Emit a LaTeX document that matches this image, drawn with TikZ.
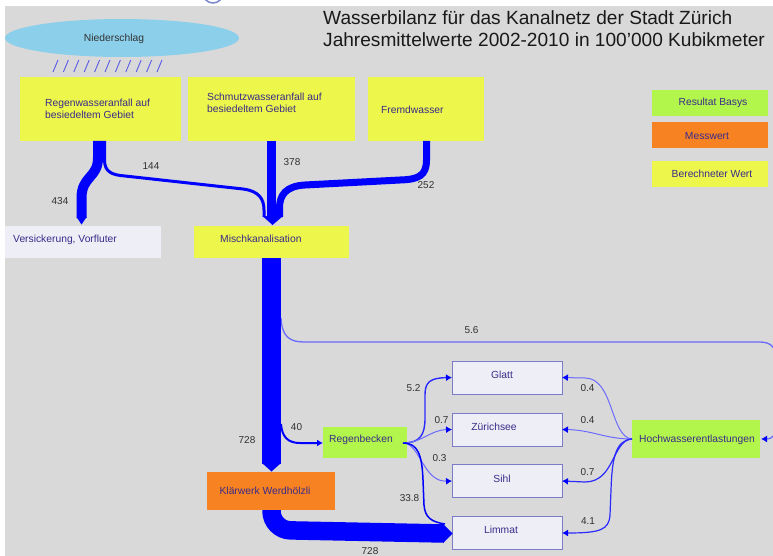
\documentclass[tikz,border=0pt]{standalone}
\usepackage{fontspec}
\setmainfont{Liberation Sans}
\usetikzlibrary{arrows.meta,shapes.geometric}
\definecolor{bg}{HTML}{D9D9D9}
\definecolor{yel}{HTML}{ECF64B}
\definecolor{grn}{HTML}{B3F64B}
\definecolor{org}{HTML}{F78222}
\definecolor{lav}{HTML}{EEEEF7}
\definecolor{sky}{HTML}{8BCFEA}
\definecolor{txt}{HTML}{3A2A88}
\definecolor{flow}{HTML}{0000FF}
\definecolor{thinb}{HTML}{2A2AFF}
\definecolor{lightb}{HTML}{6A6AFF}
\definecolor{rbord}{HTML}{7B7BC8}
\definecolor{lab}{HTML}{303030}
\definecolor{rain}{HTML}{5A5AE6}
\definecolor{logo}{HTML}{7D88CC}
\begin{document}
\begin{tikzpicture}[x=1pt,y=-1pt,
  box/.style={rectangle, inner sep=0pt, outer sep=0pt},
  txtstyle/.style={font=\fontsize{10.3}{12}\selectfont, text=txt, inner sep=0pt},
  num/.style={font=\fontsize{10}{12}\selectfont, text=lab, inner sep=0pt},
  river/.style={box, fill=lav, draw=rbord, line width=0.9pt, minimum width=110pt, minimum height=33pt},
  arr/.style={-{Latex[length=6pt,width=7pt,color=flow]}},
  thinflow/.style={draw=thinb, line width=1.4pt},
  lightflow/.style={draw=lightb, line width=1pt},
]
\useasboundingbox (0,0) rectangle (773,556);
\begin{scope}
\clip (0,0) rectangle (773,556);
\fill[white] (0,0) rectangle (773,556);
\draw[logo, line width=1.5pt] (213,-7) circle (10);
\fill[bg] (5,6) rectangle (773,556);

% titles
\node[anchor=west, inner sep=0pt, font=\fontsize{19.1}{21}\selectfont, text=black!90] (title1) at (323,18) {Wasserbilanz für das Kanalnetz der Stadt Zürich};
\node[anchor=west, inner sep=0pt, font=\fontsize{19.1}{21}\selectfont, text=black!90] (title2) at (323,40) {Jahresmittelwerte 2002-2010 in 100'000 Kubikmeter};

% Niederschlag
\node[ellipse, fill=sky, inner sep=0pt, minimum width=234pt, minimum height=38pt] (nied) at (122,38) {};
\node[txtstyle, text=black!80] (niedt) at (114,39) {Niederschlag};
\foreach \i in {0,...,10} {
  \draw[rain, line width=0.9pt] (53+\i*10.4,72) -- (58+\i*10.4,60);
}

% top boxes
\node[box, fill=yel, minimum width=161pt, minimum height=64pt] (regen) at (100.5,109) {};
\node[txtstyle, anchor=west, align=left] (regent) at (45,109) {Regenwasseranfall auf\\besiedeltem Gebiet};
\node[box, fill=yel, minimum width=167pt, minimum height=64pt] (schmutz) at (271.5,109) {};
\node[txtstyle, anchor=west, align=left] (schmutzt) at (207,103) {Schmutzwasseranfall auf\\besiedeltem Gebiet};
\node[box, fill=yel, minimum width=116pt, minimum height=64pt] (fremd) at (426,109) {};
\node[txtstyle, anchor=west] (fremdt) at (381,110) {Fremdwasser};

% legend
\node[box, fill=grn, minimum width=116pt, minimum height=26pt] (leg1) at (710,103) {};
\node[txtstyle] at (713,103) {Resultat Basys};
\node[box, fill=org, minimum width=116pt, minimum height=26pt] (leg2) at (710,135) {};
\node[txtstyle] at (707,136) {Messwert};
\node[box, fill=yel, minimum width=116pt, minimum height=26pt] (leg3) at (710,174) {};
\node[txtstyle] at (712,174) {Berechneter Wert};

% middle boxes
\node[box, fill=lav, minimum width=156pt, minimum height=32pt] (vers) at (83,242) {};
\node[txtstyle, anchor=west] at (13,240) {Versickerung, Vorfluter};
\node[box, fill=yel, minimum width=155pt, minimum height=32pt] (misch) at (271.5,242) {};
\node[txtstyle, anchor=west] at (220,239) {Mischkanalisation};

% flows into Mischkanalisation
\draw[flow, line width=10pt] (98,141) -- (98,158) .. controls (98,178) and (81.5,176) .. (81.5,198) -- (81.5,218);
\fill[flow] (76.5,217) -- (86.5,217) -- (81.5,224.5) -- cycle;
\draw[flow, line width=3pt] (104.5,141) -- (104.5,160) .. controls (104.5,172) and (112,175) .. (125,176) -- (243,189) .. controls (258,191) and (264,198) .. (264,210) -- (264,217);
\draw[flow, line width=9pt] (271.5,141) -- (271.5,217);
\draw[flow, line width=7pt] (426.5,141) -- (426.5,160) .. controls (426.5,176) and (418,179.5) .. (400,180) -- (305,185) .. controls (286,186) and (279.5,195) .. (279.5,208) -- (279.5,217);
\fill[flow] (262.5,216) -- (283,216) -- (272.5,225) -- cycle;

\node[num] at (60,201) {434};
\node[num] at (151,166) {144};
\node[num] at (292,162) {378};
\node[num] at (426,185) {252};

% lower nodes
\node[box, fill=grn, minimum width=84pt, minimum height=31pt] (rb) at (365,442.5) {};
\node[txtstyle, anchor=west] at (329,440) {Regenbecken};
\node[box, fill=org, minimum width=128pt, minimum height=38pt] (klaer) at (271,491) {};
\node[txtstyle] at (265,491) {Klärwerk Werdhölzli};
\node[river] (glatt) at (507,377.5) {};
\node[txtstyle] at (502,375) {Glatt};
\node[river] (zuri) at (507,429.5) {};
\node[txtstyle] at (494,427) {Zürichsee};
\node[river] (sihl) at (507,481) {};
\node[txtstyle] at (502,479) {Sihl};
\node[river] (limmat) at (507,533) {};
\node[txtstyle] at (501,530) {Limmat};
\node[box, fill=grn, minimum width=128pt, minimum height=38pt] (hoch) at (696,439) {};
\node[txtstyle] at (697,440) {Hochwasserentlastungen};

% main flow
\draw[lightb, line width=1.3pt] (281,318) .. controls (282,336) and (289,342) .. (304,342) -- (760,342) .. controls (770,342) and (776,347) .. (776,358);
\draw[lightb, line width=1.3pt, arr] (776,424) .. controls (776,436) and (772,439) .. (761,439);
\draw[flow, line width=2pt, arr] (281,424) .. controls (282,437) and (288,443) .. (300,443) -- (rb.west |- 0,443);
\draw[flow, line width=19pt] (misch.south) -- (271.5,464);
\fill[flow] (262,463) -- (281,463) -- (271.5,471.5) -- cycle;
\draw[flow, line width=18.5pt, rounded corners=19pt] (271.5,510) -- (271.5,530) -- (444,533.5);
\fill[flow] (443,524) -- (452.5,533.5) -- (443,543) -- cycle;

\node[num] at (471.5,330) {5.6};
\node[num] at (296.5,427) {40};
\node[num] at (247,440) {728};
\node[num] at (370,551) {728};

% Regenbecken outflows
\coordinate (rbo) at (403,443);
\draw[thinflow, arr] (rbo) .. controls (420,443) and (425,435) .. (425,418) -- (425,395) .. controls (425,382) and (430,378) .. (glatt.west);
\draw[lightflow, arr] (rbo) .. controls (422,443) and (430,430) .. (zuri.west);
\draw[lightflow, arr] (rbo) .. controls (420,443) and (423,482) .. (sihl.west);
\draw[flow, line width=1.5pt] (rbo) .. controls (418,443) and (422,455) .. (423,480) -- (424,505) .. controls (425,518) and (432,522) .. (445,524);
\node[num] at (413.5,388) {5.2};
\node[num] at (441.5,420) {0.7};
\node[num] at (439.5,458) {0.3};
\node[num] at (409.5,498) {33.8};

% Hochwasser outflows
\coordinate (hwo) at (632,439);
\draw[lightflow, arr] (hwo) .. controls (610,437) and (614,378) .. (585,378) -- (glatt.east);
\draw[lightflow, arr] (hwo) .. controls (605,439) and (592,430) .. (zuri.east);
\draw[thinflow, line width=1.2pt, arr] (hwo) .. controls (612,440) and (615,482) .. (585,482) -- (sihl.east);
\draw[thinflow, line width=1.2pt, arr] (hwo) .. controls (615,440) and (612,460) .. (611,490) -- (610,515) .. controls (609,530) and (600,533) .. (limmat.east);
\node[num] at (587.5,388) {0.4};
\node[num] at (587.5,420) {0.4};
\node[num] at (587.5,472) {0.7};
\node[num] at (588,521) {4.1};
\end{scope}
\end{tikzpicture}
\end{document}
